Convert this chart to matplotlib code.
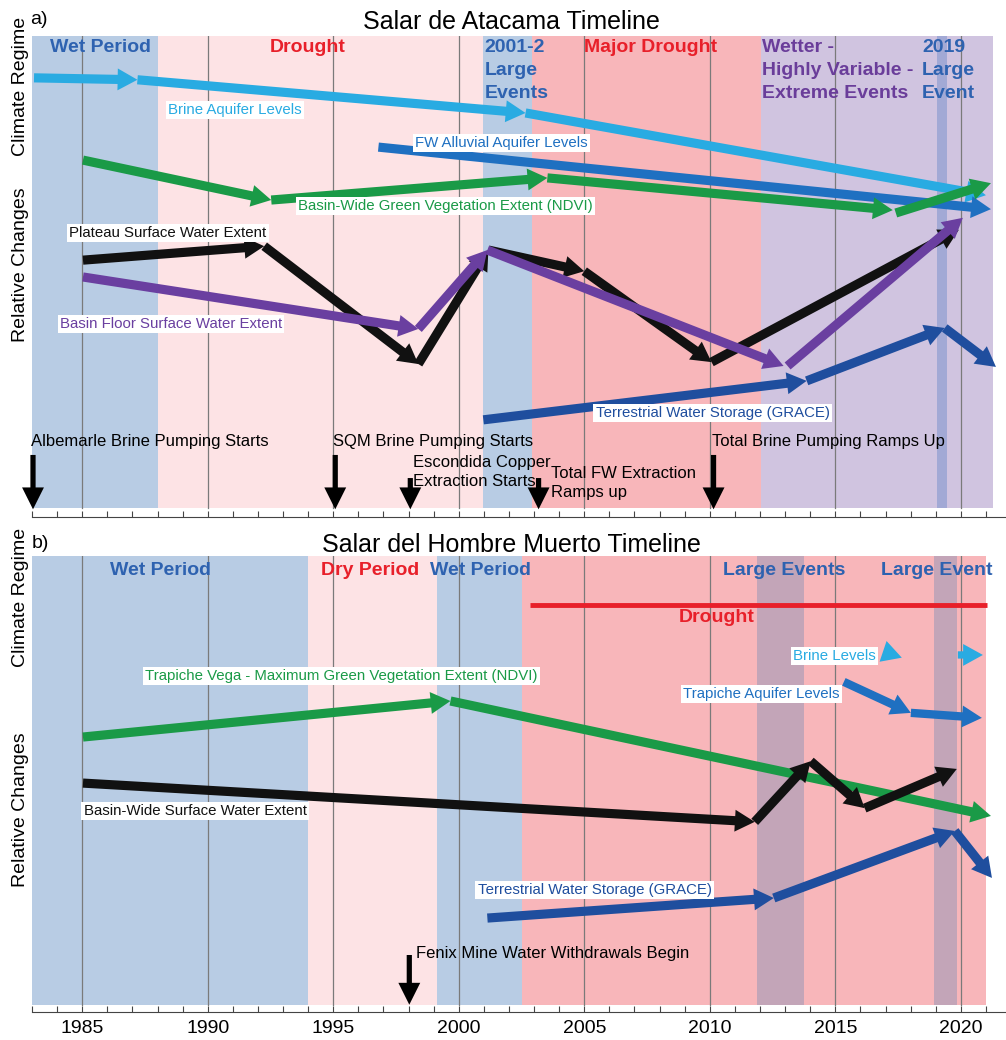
import matplotlib
matplotlib.use("Agg")
import matplotlib.pyplot as plt

plt.rcParams['font.family'] = ['Liberation Sans', 'DejaVu Sans']

# ---------------- colours ----------------
WET = '#b8cce4'
DRY_LIGHT = '#fde3e5'
DRY_DARK = '#f8b6ba'
WETTER = '#d0c4e0'
BAND_A = '#a2a9d5'
BAND_B = '#c3a5b8'
TXT_BLUE = '#2e62b0'
TXT_RED = '#e8202a'
TXT_PURPLE = '#6a3d9a'
C_BRINE = '#29abe2'
C_FW = '#1f70c1'
C_GREEN = '#1a9a47'
C_BLACK = '#111111'
C_PURPLE = '#6a3fa0'
C_GRACE = '#1f4e9e'

# ---------------- panel a data (x = year, y = relative level 0-100) ----------------
a_periods = [(1983.0, 1988.0, WET), (1988.0, 2000.95, DRY_LIGHT), (2000.95, 2002.9, WET),
             (2002.9, 2012.05, DRY_DARK), (2012.05, 2021.3, WETTER), (2019.05, 2019.45, BAND_A)]

a_brine_x = [1983.08, 1987.2, 2002.66, 2021.0]
a_brine_y = [91.3, 90.9, 84.0, 66.9]
a_fw_x = [1996.8, 2021.2]
a_fw_y = [76.9, 64.0]
a_ndvi_x = [1985.03, 1992.53, 2003.53, 2017.29]
a_ndvi_y = [74.2, 65.9, 70.5, 63.8]
a_ndvi2_x = [2017.41, 2021.2]
a_ndvi2_y = [63.2, 69.4]
a_plateau_x = [1985.03, 1992.25, 1998.39, 2001.18, 2005.0, 2010.07, 2019.92]
a_plateau_y = [53.4, 56.3, 31.8, 55.5, 51.1, 32.2, 59.7]
a_floor_x = [1985.03, 1998.39, 2001.14, 2012.94]
a_floor_y = [49.9, 39.1, 55.5, 31.4]
a_floor2_x = [2013.1, 2020.08]
a_floor2_y = [31.4, 62.2]
a_grace_x = [2000.98, 2013.86, 2019.36, 2021.4]
a_grace_y = [20.2, 28.3, 39.3, 31.2]

a_series_labels = [
    ("Brine Aquifer Levels", 1991.09, 84.6, C_BRINE),
    ("FW Alluvial Aquifer Levels", 2001.7, 77.8, C_FW),
    ("Basin-Wide Green Vegetation Extent (NDVI)", 1999.47, 64.7, C_GREEN),
    ("Plateau Surface Water Extent", 1988.42, 59.0, C_BLACK),
    ("Basin Floor Surface Water Extent", 1988.54, 40.1, C_PURPLE),
    ("Terrestrial Water Storage (GRACE)", 2010.11, 21.6, C_GRACE),
]
a_regime_labels = [
    ("Wet Period", 1983.72, TXT_BLUE),
    ("Drought", 1992.49, TXT_RED),
    ("2001-2\nLarge\nEvents", 2001.02, TXT_BLUE),
    ("Major Drought", 2004.97, TXT_RED),
    ("Wetter -\nHighly Variable -\nExtreme Events", 2012.07, TXT_PURPLE),
    ("2019\nLarge\nEvent", 2018.45, TXT_BLUE),
]
# event: (arrow year, arrow top level, text, text x, text y)
a_events = [
    (1983.04, 12.9, "Albemarle Brine Pumping Starts", 1982.96, 15.6),
    (1995.08, 12.9, "SQM Brine Pumping Starts", 1995.0, 15.6),
    (1998.07, 8.1, "Escondida Copper\nExtraction Starts", 1998.19, 9.4),
    (2003.18, 8.1, "Total FW Extraction\nRamps up", 2003.69, 7.1),
    (2010.15, 12.9, "Total Brine Pumping Ramps Up", 2010.07, 15.6),
]

# ---------------- panel b data ----------------
b_periods = [(1983.0, 1994.0, WET), (1994.0, 1999.15, DRY_LIGHT), (1999.15, 2002.5, WET),
             (2002.5, 2021.0, DRY_DARK), (2011.87, 2013.74, BAND_B), (2018.95, 2019.85, BAND_B)]

b_ndvi_x = [1985.03, 1999.67, 2021.2]
b_ndvi_y = [60.3, 68.2, 43.0]
b_surf_x = [1985.03, 2011.79, 2014.02, 2016.17, 2019.84]
b_surf_y = [50.2, 41.7, 55.0, 44.7, 53.3]
b_grace_x = [2001.14, 2012.55, 2019.76, 2021.24]
b_grace_y = [20.6, 25.0, 39.7, 29.4]
b_brine1_x = [2016.95, 2017.65]
b_brine1_y = [79.0, 77.7]
b_brine2_x = [2019.88, 2020.88]
b_brine2_y = [78.3, 78.3]
b_trap_x = [2015.34, 2018.01, 2020.84]
b_trap_y = [72.4, 65.6, 64.5]

b_series_labels = [
    ("Trapiche Vega - Maximum Green Vegetation Extent (NDVI)", 1995.32, 73.7, C_GREEN),
    ("Basin-Wide Surface Water Extent", 1989.5, 44.1, C_BLACK),
    ("Terrestrial Water Storage (GRACE)", 2005.41, 26.8, C_GRACE),
    ("Brine Levels", 2014.98, 78.1, C_BRINE),
    ("Trapiche Aquifer Levels", 2012.07, 69.7, C_FW),
]
b_regime_labels = [
    ("Wet Period", 1986.11, TXT_BLUE),
    ("Dry Period", 1994.52, TXT_RED),
    ("Wet Period", 1998.87, TXT_BLUE),
    ("Large Events", 2010.51, TXT_BLUE),
    ("Large Event", 2016.81, TXT_BLUE),
]
b_drought_x = [2002.82, 2021.04]
b_drought_y = 89.3
b_events = [(1998.03, 12.5, "Fenix Mine Water Withdrawals Begin", 1998.31, 12.9)]

years_major = list(range(1985, 2021, 5))
years_minor = list(range(1983, 2022))


def arrows(ax, xs, ys, color, scale=15, tail=0.44, hl=0.95, hw=1.05):
    for i in range(len(xs) - 1):
        ax.annotate('', xy=(xs[i + 1], ys[i + 1]), xytext=(xs[i], ys[i]),
                    arrowprops=dict(arrowstyle=f'simple,head_length={hl},head_width={hw},tail_width={tail}',
                                    mutation_scale=scale, color=color, lw=0,
                                    shrinkA=0, shrinkB=0), zorder=3)


def setup(ax, periods, bg_bottom):
    ax.set_xlim(1983, 2021.8)
    ax.set_ylim(0, 100)
    for x0, x1, c in periods:
        ax.axvspan(x0, x1, ymin=bg_bottom, ymax=1, color=c, lw=0, zorder=0)
    for x in years_major:
        ax.axvline(x, ymin=bg_bottom, ymax=1, color='#7a7a7a', lw=0.9, zorder=1)
    for s in ['left', 'right', 'top']:
        ax.spines[s].set_visible(False)
    ax.spines['bottom'].set_color('#444444')
    ax.set_yticks([])
    ax.set_xticks(years_major)
    ax.set_xticks(years_minor, minor=True)
    ax.tick_params(axis='x', which='both', direction='in', length=4, width=0.8, color='#444444')


def event_arrows(ax, events, fontsize=12):
    for xa, ytop, txt, tx, ty in events:
        ax.annotate('', xy=(xa, 1.6), xytext=(xa, ytop),
                    arrowprops=dict(arrowstyle='simple,head_length=1.05,head_width=1.05,tail_width=0.25',
                                    mutation_scale=15, color='black', lw=0, shrinkA=0, shrinkB=0),
                    zorder=3)
        ax.text(tx, ty, txt, ha='left', va='center', fontsize=fontsize, color='black',
                linespacing=1.3, zorder=4)


def series_labels(ax, labels):
    for txt, x, y, c in labels:
        ax.text(x, y, txt, ha='center', va='center', fontsize=10.8, color=c, zorder=4,
                bbox=dict(facecolor='white', edgecolor='none', pad=1.6))


fig = plt.figure(figsize=(10.06, 10.40), dpi=100)

# ---------------- panel a ----------------
ax1 = fig.add_axes([32 / 1006, 1 - 517 / 1040, 974 / 1006, 481 / 1040])
setup(ax1, a_periods, 0.019)
ax1.tick_params(labelbottom=False)
for txt, x, c in a_regime_labels:
    ax1.text(x, 99.4, txt, ha='left', va='top', fontsize=14, fontweight='bold', color=c,
             linespacing=1.45, zorder=4)
arrows(ax1, a_brine_x, a_brine_y, C_BRINE)
arrows(ax1, a_fw_x, a_fw_y, C_FW)
arrows(ax1, a_ndvi_x, a_ndvi_y, C_GREEN)
arrows(ax1, a_ndvi2_x, a_ndvi2_y, C_GREEN)
arrows(ax1, a_grace_x, a_grace_y, C_GRACE)
arrows(ax1, a_plateau_x, a_plateau_y, C_BLACK)
arrows(ax1, a_floor_x, a_floor_y, C_PURPLE)
arrows(ax1, a_floor2_x, a_floor2_y, C_PURPLE)
series_labels(ax1, a_series_labels)
event_arrows(ax1, a_events)

# ---------------- panel b ----------------
ax2 = fig.add_axes([32 / 1006, 1 - 1012 / 1040, 974 / 1006, 456 / 1040])
setup(ax2, b_periods, 0.016)
for txt, x, c in b_regime_labels:
    ax2.text(x, 96.9, txt, ha='left', va='center', fontsize=14, fontweight='bold', color=c, zorder=4)
ax2.plot(b_drought_x, [b_drought_y, b_drought_y], color=TXT_RED, lw=3.5, solid_capstyle='butt', zorder=3)
ax2.text(2010.27, 86.6, "Drought", ha='center', va='center', fontsize=14, fontweight='bold',
         color=TXT_RED, zorder=4)
arrows(ax2, b_ndvi_x, b_ndvi_y, C_GREEN)
arrows(ax2, b_grace_x, b_grace_y, C_GRACE)
arrows(ax2, b_surf_x, b_surf_y, C_BLACK)
arrows(ax2, b_brine1_x, b_brine1_y, C_BRINE, tail=0.35)
arrows(ax2, b_brine2_x, b_brine2_y, C_BRINE, tail=0.35)
arrows(ax2, b_trap_x, b_trap_y, C_FW, tail=0.4)
series_labels(ax2, b_series_labels)
event_arrows(ax2, b_events, fontsize=12)
for lab in ax2.get_xticklabels():
    lab.set_fontsize(14)
ax2.tick_params(axis='x', which='major', pad=6)

# ---------------- titles and side labels ----------------
fig.text(511 / 1006, 1 - 22 / 1040, "Salar de Atacama Timeline", ha='center', va='center', fontsize=18)
fig.text(511 / 1006, 1 - 545 / 1040, "Salar del Hombre Muerto Timeline", ha='center', va='center', fontsize=18)
fig.text(30 / 1006, 1 - 19 / 1040, "a)", ha='left', va='center', fontsize=14)
fig.text(32 / 1006, 1 - 543 / 1040, "b)", ha='left', va='center', fontsize=14)
for yc, txt in [(86, "Climate Regime"), (265, "Relative Changes"),
                (597, "Climate Regime"), (810, "Relative Changes")]:
    fig.text(21 / 1006, 1 - yc / 1040, txt, rotation=90, ha='center', va='center', fontsize=14)

fig.savefig("out.png", dpi=100)
